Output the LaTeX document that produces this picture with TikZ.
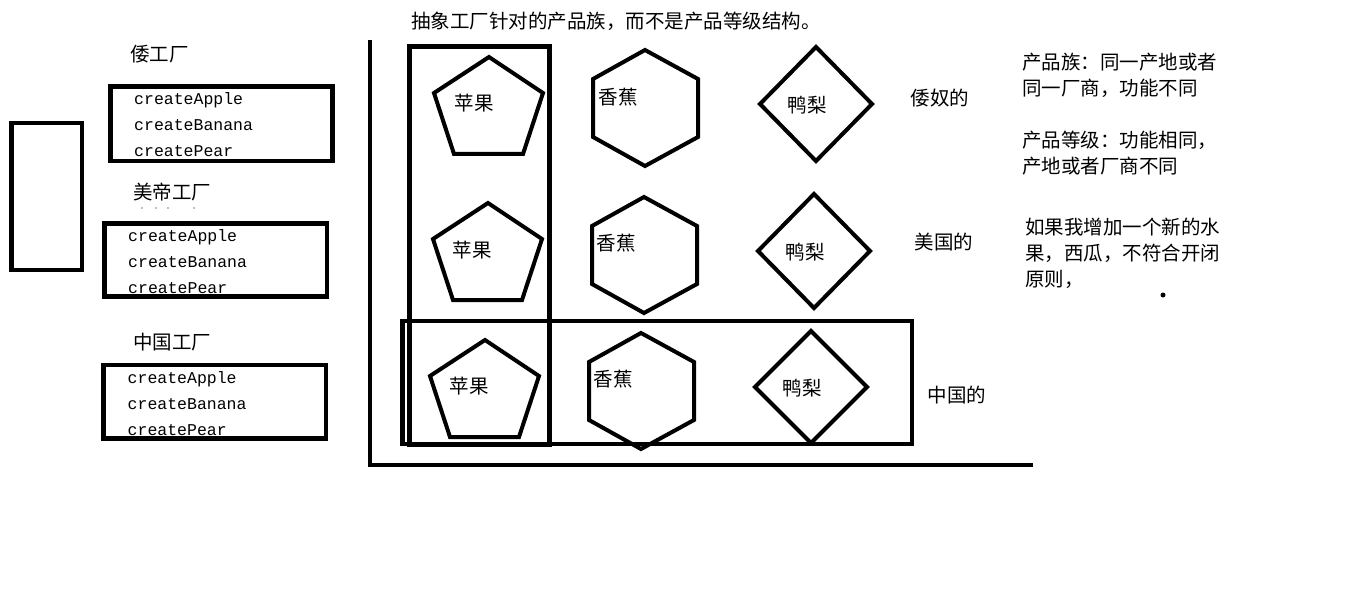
\documentclass[tikz,border=0pt]{standalone}
\usepackage{fontspec}
\usepackage{tikz}
\setmonofont{Liberation Mono}
\newfontfamily\cjk{Noto Sans CJK SC}

\begin{document}
\begin{tikzpicture}[x=1pt, y=-1pt,
		frame/.style={line width=4.5pt},
		fig/.style={line width=4pt},
		cn/.style={font=\cjk\fontsize{19.5}{26}\selectfont, inner sep=0pt},
		code/.style={font=\ttfamily\fontsize{16.5}{26}\selectfont, inner sep=0pt, anchor=base west}]
		\useasboundingbox (0,0) rectangle (1360,604);

		\draw[frame] (11.5,123) rectangle (82,270);

		\node[cn, anchor=west] (wofac) at (130,54) {倭工厂};
		\draw[frame] (110.5,86.5) rectangle (332.5,161);
		\node[code] (wo1) at (134,105) {createApple};
		\node[code] (wo2) at (134,131) {createBanana};
		\node[code] (wo3) at (134,157) {createPear};

		\node[cn, anchor=west] (usfac) at (133,192) {美帝工厂};
		\fill[gray] (142,208) circle (0.8pt) (156,208) circle (0.8pt) (168,208) circle (0.8pt) (194,208) circle (0.8pt);
		\draw[frame] (104.5,223.5) rectangle (327,296.5);
		\node[code] (us1) at (128,241) {createApple};
		\node[code] (us2) at (128,267) {createBanana};
		\node[code] (us3) at (128,293) {createPear};

		\node[cn, anchor=west] (cnfac) at (133,342) {中国工厂};
		\draw[frame] (103.5,365) rectangle (326,438.5);
		\node[code] (cn1) at (127.5,383) {createApple};
		\node[code] (cn2) at (127.5,409) {createBanana};
		\node[code] (cn3) at (127.5,435) {createPear};

		\node[cn, anchor=west] (title) at (411,21) {抽象工厂针对的产品族，而不是产品等级结构。};

		\coordinate (O) at (370,465);
		\draw[fig] (370,40) -- (O) -- (1033,465);

		\draw[frame] (409.5,46.5) rectangle (549.5,445);
		\draw[frame] (402.5,321) rectangle (912,444);

		\coordinate (A1) at (489,57);
		\coordinate (A2) at (488,203);
		\coordinate (A3) at (485,340);
		\draw[fig] (A1) -- ++(-55,36) -- ++(20,61) -- ++(69,0) -- ++(20,-61) -- cycle;
		\draw[fig] (A2) -- ++(-55,36) -- ++(20,61) -- ++(69,0) -- ++(20,-61) -- cycle;
		\draw[fig] (A3) -- ++(-55,36) -- ++(20,61) -- ++(69,0) -- ++(20,-61) -- cycle;
		\node[cn] (apple1) at (474,103) {苹果};
		\node[cn] (apple2) at (472,250) {苹果};
		\node[cn] (apple3) at (469,386) {苹果};

		\coordinate (B1) at (645,50);
		\coordinate (B2) at (644,197);
		\coordinate (B3) at (641,333);
		\draw[fig] (B1) -- ++(53,29) -- ++(0,58) -- ++(-53,29) -- ++(-52,-29) -- ++(0,-58) -- cycle;
		\draw[fig] (B2) -- ++(53,29) -- ++(0,58) -- ++(-53,29) -- ++(-52,-29) -- ++(0,-58) -- cycle;
		\draw[fig] (B3) -- ++(53,29) -- ++(0,58) -- ++(-53,29) -- ++(-52,-29) -- ++(0,-58) -- cycle;
		\node[cn] (banana1) at (618,97) {香蕉};
		\node[cn] (banana2) at (616,243) {香蕉};
		\node[cn] (banana3) at (613,379) {香蕉};

		\coordinate (C1) at (816,47);
		\coordinate (C2) at (814,194);
		\coordinate (C3) at (811,331);
		\draw[fig] (C1) -- ++(56,57) -- ++(-56,57) -- ++(-56,-57) -- cycle;
		\draw[fig] (C2) -- ++(56,57) -- ++(-56,57) -- ++(-56,-57) -- cycle;
		\draw[fig] (C3) -- ++(56,56) -- ++(-56,56) -- ++(-56,-56) -- cycle;
		\node[cn] (pear1) at (807,105) {鸭梨};
		\node[cn] (pear2) at (805,252) {鸭梨};
		\node[cn] (pear3) at (802,388) {鸭梨};

		\node[cn] (row1) at (940,98) {倭奴的};
		\node[cn] (row2) at (944,242) {美国的};
		\node[cn] (row3) at (957,395) {中国的};

		\node[cn, anchor=west] (fam1) at (1022,62) {产品族：同一产地或者};
		\node[cn, anchor=west] (fam2) at (1022,88) {同一厂商，功能不同};
		\node[cn, anchor=west] (lvl1) at (1022,140) {产品等级：功能相同，};
		\node[cn, anchor=west] (lvl2) at (1022,166) {产地或者厂商不同};
		\node[cn, anchor=west] (add1) at (1025,227) {如果我增加一个新的水};
		\node[cn, anchor=west] (add2) at (1025,253) {果，西瓜，不符合开闭};
		\node[cn, anchor=west] (add3) at (1025,279) {原则，};
		\fill (1163,295) circle (2.5pt);

	\end{tikzpicture}
\end{document}
